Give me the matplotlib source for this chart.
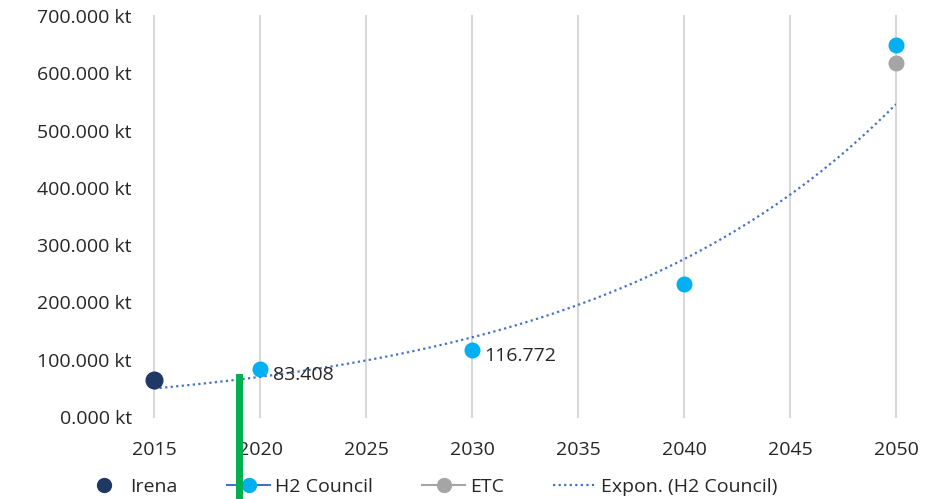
import numpy as np
import matplotlib
matplotlib.use("Agg")
import matplotlib.pyplot as plt
from matplotlib.lines import Line2D

plt.rcParams['font.family'] = ['Open Sans', 'DejaVu Sans']

# Data (kt)
irena_years = [2015]
irena_vals = [64000]
h2_years = [2020, 2030, 2040, 2050]
h2_vals = [83408, 116772, 232000, 649000]
etc_years = [2050]
etc_vals = [618000]
labelled_years = [2020, 2030]
marker_year_green = 2019
green_top = 70000

FS = 14
TXT = '#262626'

fig = plt.figure(figsize=(9.41, 4.99), dpi=100)
ax = fig.add_axes([0.1637, 0.1643, 0.9522 - 0.1637, 0.968 - 0.1643])

# Exponential trendline (Excel-style, backward forecast 5 years)
coef = np.polyfit(h2_years, np.log(h2_vals), 1)
tx = np.linspace(2015, 2050, 200)
ty = np.exp(np.polyval(coef, tx))
ax.plot(tx, ty, linestyle=(0, (1, 1.5)), color='#4472C4', lw=1.6, zorder=2)

ax.plot(irena_years, irena_vals, 'o', color='#1F3864', ms=12, zorder=4, clip_on=False)
ax.plot(h2_years, h2_vals, 'o', color='#00B0F0', ms=10.5, zorder=4, clip_on=False)
ax.plot(etc_years, etc_vals, 'o', color='#A5A5A5', ms=10.5, zorder=4, clip_on=False)

for yr, v in zip(h2_years, h2_vals):
    if yr in labelled_years:
        ax.annotate(f"{v/1000:.3f}", (yr, v), xytext=(9, -4), textcoords='offset points',
                    ha='left', va='center', fontsize=FS, color=TXT)

ax.set_xlim(2015, 2050)
ax.set_ylim(0, 700000)
ax.set_xticks(range(2015, 2051, 5))
ax.set_yticks(range(0, 700001, 100000))
ax.set_yticklabels([f"{v/1000:.3f} kt" for v in range(0, 700001, 100000)])
ax.tick_params(axis='both', length=0, labelsize=FS, labelcolor=TXT)
ax.tick_params(axis='x', pad=17)
ax.tick_params(axis='y', pad=16)
ax.grid(axis='x', color='#D9D9D9', lw=1.5)
for gl in ax.get_xgridlines():
    gl.set_clip_on(False)
ax.set_axisbelow(True)
for s in ax.spines.values():
    s.set_visible(False)

# Green vertical marker
ax.plot([marker_year_green, marker_year_green], [green_top, -200000], color='#00B050',
        lw=5, clip_on=False, zorder=10)

handles = [
    Line2D([], [], marker='o', ls='none', color='#1F3864', ms=10),
    Line2D([], [], marker='o', ls='-', color='#4472C4', mfc='#00B0F0', mec='#00B0F0', ms=10, lw=1.5),
    Line2D([], [], marker='o', ls='-', color='#A5A5A5', ms=10, lw=1.5),
    Line2D([], [], ls=(0, (1, 1.5)), color='#4472C4', lw=1.6),
]
labels = ['Irena', 'H2 Council', 'ETC', 'Expon. (H2 Council)']
leg = ax.legend(handles, labels, loc='center', bbox_to_anchor=(0.457, 0.025),
                bbox_transform=fig.transFigure, ncol=4, frameon=False, fontsize=FS,
                handlelength=2.2, columnspacing=2.55, handletextpad=0.25)
for t in leg.get_texts():
    t.set_color(TXT)

fig.savefig('out.png', dpi=100)
